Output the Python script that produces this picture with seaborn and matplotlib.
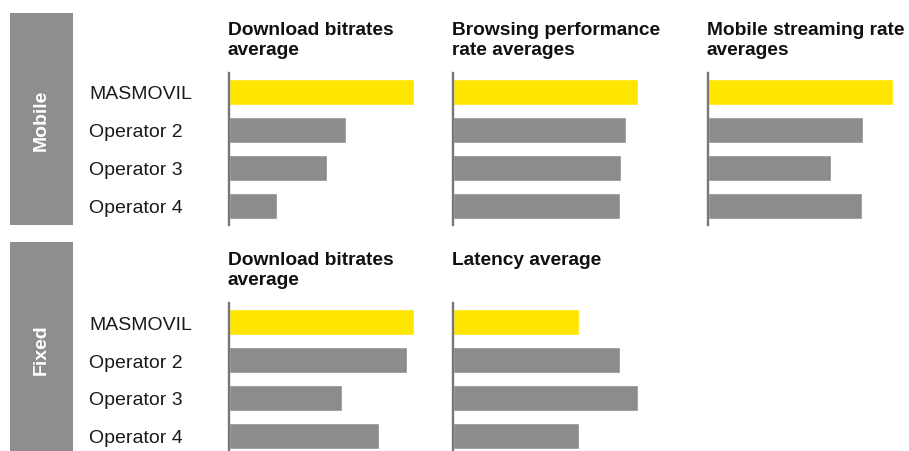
import numpy as np
import pandas as pd
import matplotlib
matplotlib.use("Agg")
import matplotlib.pyplot as plt
from matplotlib.patches import Rectangle
import seaborn as sns

# data (longest bar of each panel = 100)
operators = ["MASMOVIL", "Operator 2", "Operator 3", "Operator 4"]

mobile_download = [100, 63, 53, 26]
mobile_browsing = [100, 93.5, 91, 90]
mobile_streaming = [100, 84, 66.5, 83]
fixed_download = [100, 96, 61, 81]
fixed_latency = [68, 90, 100, 68]

mobile_titles = ["Download bitrates\naverage", "Browsing performance\nrate averages",
                 "Mobile streaming rate\naverages"]
fixed_titles = ["Download bitrates\naverage", "Latency average"]

YELLOW = "#FFE600"
GREY = "#8C8C8C"
STRIP = "#8E8E8E"
SPINE = "#777777"
palette = [YELLOW, GREY, GREY, GREY]

W, H = 909, 452
sns.set_theme(style="white")
plt.rcParams["font.family"] = ["Liberation Sans", "DejaVu Sans"]

fig = plt.figure(figsize=(W / 100, H / 100), dpi=100)
fig.patch.set_facecolor("white")

col_left = [229, 453, 708]
ax_w = 185
ax_h = 152


def px_axes(left, top):
    return fig.add_axes([left / W, (H - top - ax_h) / H, ax_w / W, ax_h / H])


def panel(ax, values, title, show_labels):
    df = pd.DataFrame({"operator": operators, "value": values})
    sns.barplot(data=df, x="value", y="operator", hue="operator", palette=palette,
                legend=False, width=0.7, ax=ax, orient="h", saturation=1)
    ax.set_xlim(0, 100)
    ax.set_ylim(3.5, -0.5)
    ax.set_xlabel("")
    ax.set_ylabel("")
    ax.set_xticks([])
    for s in ["top", "right", "bottom"]:
        ax.spines[s].set_visible(False)
    ax.spines["left"].set_color(SPINE)
    ax.spines["left"].set_linewidth(1.7)
    ax.patch.set_alpha(0)
    if show_labels:
        ax.tick_params(axis="y", length=0, pad=100.5, labelsize=14, labelcolor="#1a1a1a")
        for lab in ax.get_yticklabels():
            lab.set_horizontalalignment("left")
    else:
        ax.set_yticks([])
    ax.annotate(title, xy=(0, 1), xycoords="axes fraction", xytext=(-0.8, 37.5),
                textcoords="offset points", ha="left", va="top", fontsize=13.8,
                fontweight="bold", color="#111111", linespacing=1.2)


mobile_vals = [mobile_download, mobile_browsing, mobile_streaming]
for i, (vals, title) in enumerate(zip(mobile_vals, mobile_titles)):
    ax = px_axes(col_left[i], 74)
    panel(ax, vals, title, i == 0)

fixed_vals = [fixed_download, fixed_latency]
for i, (vals, title) in enumerate(zip(fixed_vals, fixed_titles)):
    ax = px_axes(col_left[i], 304)
    panel(ax, vals, title, i == 0)

# side strips
for label, top, bottom, cy in [("Mobile", 14, 226, 120), ("Fixed", 243, 470, 350)]:
    fig.patches.append(Rectangle((10 / W, (H - bottom) / H), 63 / W, (bottom - top) / H,
                                 transform=fig.transFigure, facecolor=STRIP,
                                 edgecolor="none", zorder=0))
    fig.text(41.5 / W, (H - cy) / H, label, rotation=90, ha="center", va="center",
             color="white", fontsize=14, fontweight="bold")

fig.savefig("out.png", dpi=100, facecolor="white")
